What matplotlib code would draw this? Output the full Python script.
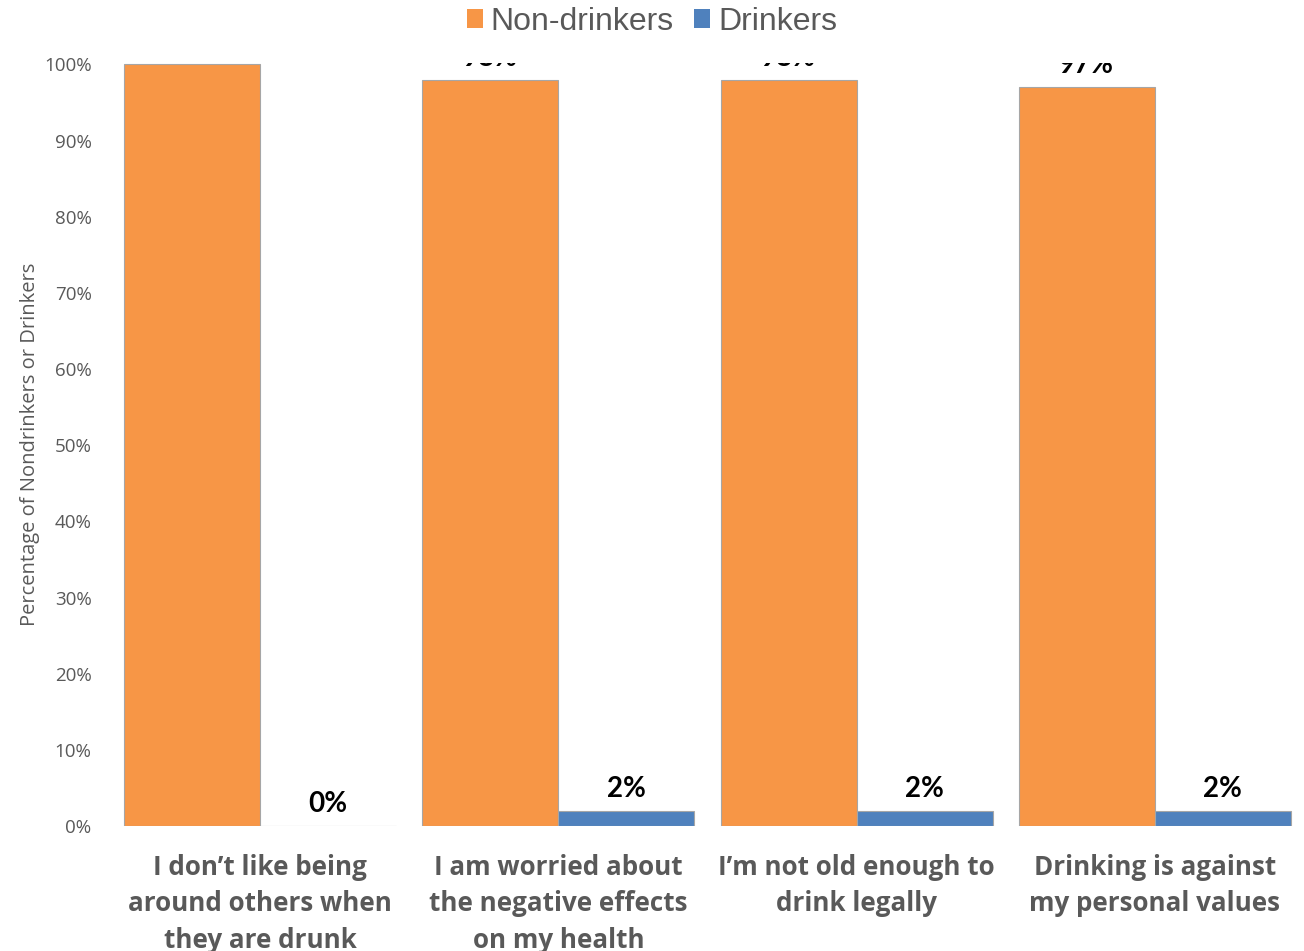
#!/usr/bin/env python3
"""Reasons for not drinking: Non-drinkers vs Drinkers."""
import numpy as np
import matplotlib
matplotlib.use("Agg")
import matplotlib.pyplot as plt
from matplotlib.patches import Patch

categories = [
    "I don\u2019t like being\naround others when\nthey are drunk",
    "I am worried about\nthe negative effects\non my health",
    "I\u2019m not old enough to\ndrink legally",
    "Drinking is against\nmy personal values",
]
non_drinkers = [100, 98, 98, 97]
drinkers = [0, 2, 2, 2]
yticks = [0, 10, 20, 30, 40, 50, 60, 70, 80, 90, 100]

colors = {"Non-drinkers": "#F79646", "Drinkers": "#4F81BD"}
gray = "#595959"

fig = plt.figure(figsize=(13.04, 9.51), dpi=100)
ax = fig.add_axes([0.0851, 0.1314, 0.9149, 0.8024])

x = np.arange(len(categories))
w = 0.456
b1 = ax.bar(x - w / 2, non_drinkers, w, color=colors["Non-drinkers"],
            edgecolor="#a6a6a6", linewidth=0.8)
b2 = ax.bar(x + w / 2, drinkers, w, color=colors["Drinkers"],
            edgecolor="#a6a6a6", linewidth=0.8)

# value labels, clipped by the plot area like the original
for bars, vals in [(b1, non_drinkers), (b2, drinkers)]:
    for rect, v in zip(bars, vals):
        t = ax.annotate(f"{v}%", (rect.get_x() + rect.get_width() / 2, v),
                        xytext=(0, 10.2), textcoords="offset points",
                        ha="center", va="baseline", fontsize=20,
                        fontweight="bold", family="Lato", color="black",
                        annotation_clip=False)
        t.set_clip_on(True)
        t.set_clip_box(ax.bbox)

ax.set_xlim(-0.5, 3.5)
ax.set_ylim(0, 100.2)
ax.set_yticks(yticks)
ax.set_yticklabels([f"{t}%" for t in yticks], family="Open Sans",
                   fontsize=13.5, color=gray)
ax.set_xticks(x)
ax.set_xticklabels(categories, family="Open Sans", fontweight="bold",
                   fontsize=18.7, color=gray, linespacing=1.45)
ax.tick_params(axis="both", length=0)
ax.tick_params(axis="y", pad=14)
ax.tick_params(axis="x", pad=20)
for s in ax.spines.values():
    s.set_visible(False)

ax.set_ylabel("Percentage of Nondrinkers or Drinkers", family="Open Sans",
              fontsize=14.5, color=gray, labelpad=2.5)

handles = [Patch(facecolor=colors[k], edgecolor="none") for k in colors]
fig.legend(handles, list(colors.keys()), loc="center", ncol=2,
           bbox_to_anchor=(0.5, 0.977), frameon=False,
           prop={"family": "Liberation Sans", "size": 23},
           labelcolor=gray, handlelength=0.5, handleheight=0.5,
           handletextpad=0.25, columnspacing=0.65)

fig.savefig("out.png", dpi=100)
